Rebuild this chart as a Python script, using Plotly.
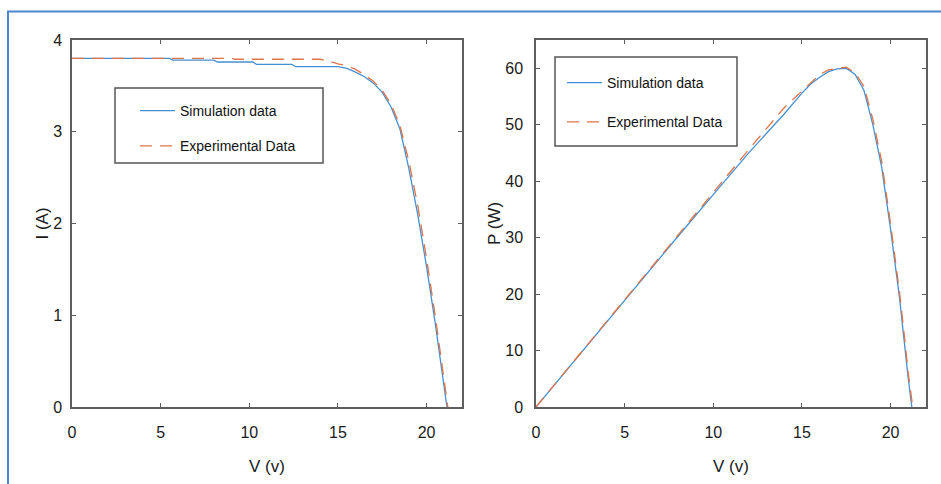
import plotly.graph_objects as go

# ---- I-V characteristic ----
v_sim_iv = [0, 2.0, 4.0, 5.5, 5.7, 8.0, 8.2, 10.2, 10.4, 12.4, 12.6, 15.0, 15.5, 16.0, 16.5,
            17.0, 17.5, 18.0, 18.5, 19.0, 19.5, 20.0, 20.5, 20.8, 21.0, 21.15]
i_sim = [3.80, 3.80, 3.80, 3.80, 3.78, 3.78, 3.76, 3.76, 3.735, 3.735, 3.71, 3.71, 3.69, 3.65, 3.60,
         3.53, 3.43, 3.27, 3.03, 2.60, 2.10, 1.53, 0.90, 0.50, 0.22, 0.0]

v_exp_iv = [0, 3.0, 6.0, 9.0, 9.2, 12.0, 14.0, 14.5, 15.0, 15.5, 16.0, 16.5, 17.0, 17.5,
            18.0, 18.5, 19.0, 19.5, 20.0, 20.5, 20.8, 21.0, 21.2]
i_exp = [3.80, 3.80, 3.80, 3.80, 3.79, 3.79, 3.79, 3.77, 3.74, 3.72, 3.68, 3.62, 3.55, 3.45,
         3.30, 3.07, 2.68, 2.20, 1.62, 0.98, 0.58, 0.30, 0.0]

# ---- P-V characteristic ----
v_sim_pv = [0, 2.0, 4.0, 6.0, 8.0, 10.0, 12.0, 14.0, 15.0, 15.5, 16.0, 16.5, 17.0, 17.5,
            18.0, 18.5, 19.0, 19.5, 20.0, 20.5, 20.8, 21.0, 21.2]
p_sim = [0, 7.6, 15.2, 22.7, 30.2, 37.6, 45.0, 51.9, 55.6, 57.2, 58.4, 59.4, 59.9, 60.0,
         58.9, 56.1, 50.0, 42.5, 31.5, 19.5, 10.5, 5.0, 0.0]

v_exp_pv = [0, 2.0, 4.0, 6.0, 8.0, 10.0, 12.0, 14.0, 15.0, 16.0, 16.5, 17.0, 17.5,
            18.0, 18.5, 19.0, 19.5, 20.0, 20.5, 20.8, 21.0, 21.25]
p_exp = [0, 7.6, 15.3, 23.0, 30.6, 38.2, 45.6, 53.0, 56.0, 58.9, 59.7, 60.0, 60.2,
         59.2, 56.8, 51.0, 43.5, 32.5, 20.5, 12.0, 6.0, 0.0]

x_ticks = [0, 5, 10, 15, 20]
i_ticks = [0, 1, 2, 3, 4]
p_ticks = [0, 10, 20, 30, 40, 50, 60]

BLUE = "#4590d2"
ORANGE = "#e07448"
FONT = "Liberation Sans, Arial, sans-serif"
W, H = 941, 484


def px_x(v):
    return v / W


def px_y(v):
    return 1 - v / H


fig = go.Figure()

fig.add_trace(go.Scatter(x=v_sim_iv, y=i_sim, mode="lines", name="Simulation data",
                         line=dict(color=BLUE, width=1.3), xaxis="x", yaxis="y",
                         legend="legend", legendgroup="a"))
fig.add_trace(go.Scatter(x=v_exp_iv, y=i_exp, mode="lines", name="Experimental Data",
                         line=dict(color=ORANGE, width=1.3, dash="12px,8px"), xaxis="x", yaxis="y",
                         legend="legend", legendgroup="b"))
fig.add_trace(go.Scatter(x=v_sim_pv, y=p_sim, mode="lines", name="Simulation data",
                         line=dict(color=BLUE, width=1.3), xaxis="x2", yaxis="y2",
                         legend="legend2", legendgroup="c"))
fig.add_trace(go.Scatter(x=v_exp_pv, y=p_exp, mode="lines", name="Experimental Data",
                         line=dict(color=ORANGE, width=1.3, dash="12px,8px"), xaxis="x2", yaxis="y2",
                         legend="legend2", legendgroup="d"))

axis_style = dict(showline=True, mirror="ticks", linecolor="#5e5e5e", linewidth=1.5,
                  ticks="inside", ticklen=4, tickcolor="#5e5e5e", showgrid=False, zeroline=False,
                  automargin=False,
                  tickfont=dict(family=FONT, size=16, color="#1a1a1a"))
title_font = dict(family=FONT, size=17, color="#1a1a1a")
legend_font = dict(family=FONT, size=14, color="#111")

y0, y1 = px_y(407), px_y(40)

# legend frames (white fill hides the curves underneath)
frame = dict(type="rect", xref="paper", yref="paper", layer="above",
             line=dict(color="#555", width=1.5), fillcolor="white")

fig.update_layout(
    width=W, height=H,
    margin=dict(l=0, r=0, t=0, b=0, autoexpand=False),
    paper_bgcolor="white", plot_bgcolor="white",
    font=dict(family=FONT, color="#1a1a1a"),
    xaxis=dict(domain=[px_x(72), px_x(462)], range=[0, 22], tickvals=x_ticks, anchor="y",
               ticklabelstandoff=10,
               title=dict(text="V (v)", font=title_font, standoff=20), **axis_style),
    yaxis=dict(domain=[y0, y1], range=[0, 4], tickvals=i_ticks, anchor="x",
               ticklabelstandoff=5,
               title=dict(text="I (A)", font=title_font, standoff=0), **axis_style),
    xaxis2=dict(domain=[px_x(536), px_x(926)], range=[0, 22], tickvals=x_ticks, anchor="y2",
                ticklabelstandoff=10,
                title=dict(text="V (v)", font=title_font, standoff=20), **axis_style),
    yaxis2=dict(domain=[y0, y1], range=[0, 65], tickvals=p_ticks, anchor="x2",
                ticklabelstandoff=8,
                title=dict(text="P (W)", font=title_font, standoff=0), **axis_style),
    legend=dict(x=px_x(135), y=px_y(95), xanchor="left", yanchor="top",
                borderwidth=0, bgcolor="rgba(0,0,0,0)", font=legend_font,
                itemwidth=35, tracegroupgap=14),
    legend2=dict(x=px_x(562), y=px_y(67), xanchor="left", yanchor="top",
                 borderwidth=0, bgcolor="rgba(0,0,0,0)", font=legend_font,
                 itemwidth=35, tracegroupgap=18),
    shapes=[
        dict(type="rect", xref="paper", yref="paper",
             x0=px_x(8), x1=1.02, y0=-0.02, y1=px_y(11.5),
             line=dict(color="#4f86cf", width=2), fillcolor="rgba(0,0,0,0)", layer="below"),
        dict(frame, x0=px_x(115), x1=px_x(323), y0=px_y(163), y1=px_y(88)),
        dict(frame, x0=px_x(555), x1=px_x(737), y0=px_y(146), y1=px_y(57)),
    ],
)

fig.write_html("out.html")
